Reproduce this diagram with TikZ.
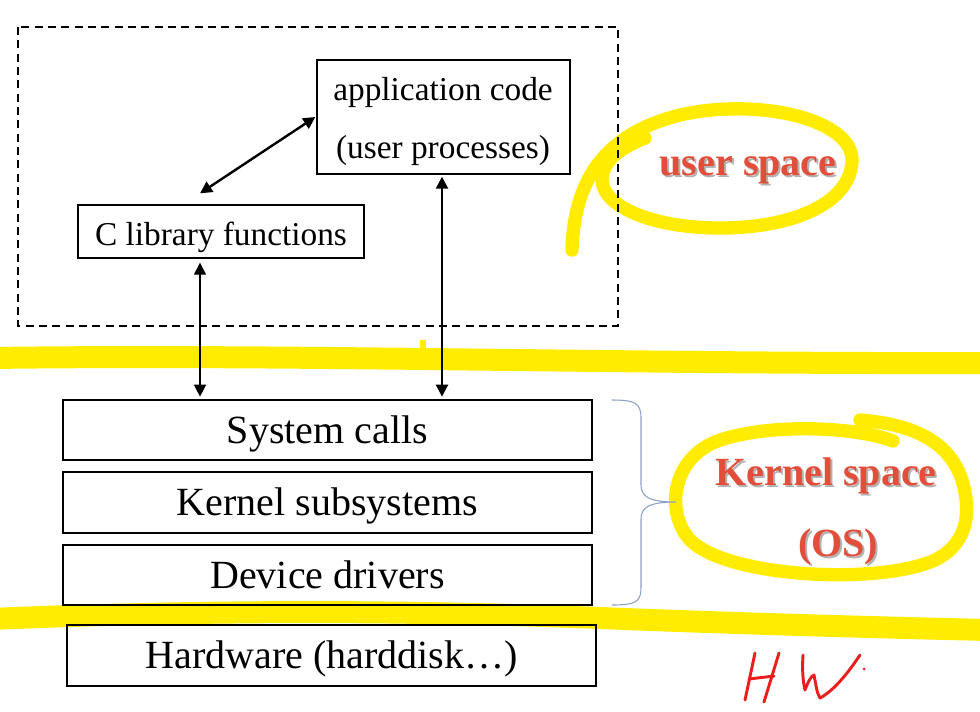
\documentclass[tikz,border=0pt]{standalone}
\usepackage{fontspec}
\setmainfont{Liberation Serif}
\usetikzlibrary{arrows.meta}
\definecolor{hl}{RGB}{255,236,0}
\definecolor{redtxt}{RGB}{226,78,58}
\definecolor{bracecol}{RGB}{140,160,200}
\definecolor{pen}{RGB}{235,30,30}
\tikzset{
 box/.style={draw, line width=1pt, inner sep=0pt},
 upper/.style={font=\fontsize{25}{30}\selectfont, inner sep=0pt, anchor=base},
 lower/.style={font=\fontsize{30}{36}\selectfont, text height=22pt, text depth=2pt},
 marker/.style={draw=hl, line cap=round, line join=round},
 biarrow/.style={{Triangle[length=9pt,width=9pt]}-{Triangle[length=9pt,width=9pt]}, line width=1.8pt},
 redlabel/.style={font=\bfseries\fontsize{30}{36}\selectfont, text=redtxt},
 shadowlabel/.style={font=\bfseries\fontsize{30}{36}\selectfont, text=black!30},
 penline/.style={draw=pen, line width=2.2pt, line cap=round, line join=round},
}
\begin{document}
\begin{tikzpicture}[x=0.75pt,y=-0.75pt]
\useasboundingbox (0,0) rectangle (980,711);
% yellow highlighter strokes
\draw[marker, line width=16.5pt] (-10,358) .. controls (300,354) and (600,364) .. (990,363);
\draw[marker, line width=5pt, line cap=butt] (423,340) -- (423,352);
\draw[marker, line width=16.5pt] (-10,619) .. controls (250,608) and (450,612) .. (600,618) .. controls (750,624) and (900,628) .. (990,630);
\draw[marker, line width=10pt] (572,250) .. controls (574,185) and (600,135) .. (680,115) .. controls (760,97) and (855,120) .. (852,162) .. controls (849,205) and (790,228) .. (720,228) .. controls (650,228) and (600,205) .. (602,178) .. controls (604,160) and (620,148) .. (645,138);
\draw[marker, line width=10pt] (893,441) .. controls (850,425) and (760,424) .. (715,442) .. controls (672,460) and (665,512) .. (690,540) .. controls (728,578) and (880,585) .. (935,560) .. controls (975,540) and (968,500) .. (962,480) .. controls (950,445) and (920,425) .. (860,420);
% dashed user region
\draw[dash pattern=on 6pt off 4pt, line width=0.9pt] (18,27) rectangle (618,326);
% boxes
\node[box, minimum width=189.75pt, minimum height=85.5pt] (app) at (443.5,117) {};
\node[upper] (app1) at (443,100) {application code};
\node[upper] (app2) at (443,158) {(user processes)};
\node[box, minimum width=214.5pt, minimum height=39.75pt] (clib) at (221,231.5) {};
\node[upper] (clibt) at (221,245) {C library functions};
\node[box, lower, minimum width=396.75pt, minimum height=45pt] (sys) at (327.5,430) {System calls};
\node[box, lower, minimum width=396.75pt, minimum height=45.75pt] (kern) at (327.5,502.5) {Kernel subsystems};
\node[box, lower, minimum width=396.75pt, minimum height=45pt] (dev) at (327.5,575) {Device drivers};
\node[box, lower, minimum width=396.75pt, minimum height=45.75pt] (hw) at (331.5,655.5) {Hardware (harddisk\ldots)};
% arrows
\draw[biarrow] ([shift={(-21,-11)}]clib.north) -- ([shift={(-1,0)}]app.west);
\coordinate (c1) at ([shift={(-21,4)}]clib.south);
\draw[biarrow, line width=1pt] (c1) -- ([yshift=2pt]c1 |- sys.north);
\coordinate (c2) at ([shift={(-1.5,2)}]app.south);
\draw[biarrow] (c2) -- ([yshift=2pt]c2 |- sys.north);
% brace
\draw[bracecol, line width=0.8pt] (612,400) .. controls (635,400) and (641,403) .. (641,418) -- (641,485) .. controls (641,497) and (650,502) .. (676,502) .. controls (650,502) and (641,507) .. (641,519) -- (641,588) .. controls (641,602) and (635,605) .. (612,605);
% red labels
\node[shadowlabel] at (750,172) {user space};
\node[redlabel] (us) at (748,170) {user space};
\node[shadowlabel] at (828,478) {Kernel space};
\node[redlabel] (ks) at (826,476) {Kernel space};
\node[shadowlabel] at (840,549) {(OS)};
\node[redlabel] (os) at (838,547) {(OS)};
% handwritten HW
\draw[penline] (755,653) -- (745,700);
\draw[penline] (779,653) -- (764,702);
\draw[penline] (749,679) -- (774,676);
\draw[penline] (803,655) .. controls (802,670) and (803,682) .. (805,690) .. controls (808,682) and (811,676) .. (814,675) .. controls (816,685) and (817,694) .. (820,698) .. controls (835,690) and (850,670) .. (860,655);
\fill[pen] (864,669) circle (1.5);
\end{tikzpicture}
\end{document}
